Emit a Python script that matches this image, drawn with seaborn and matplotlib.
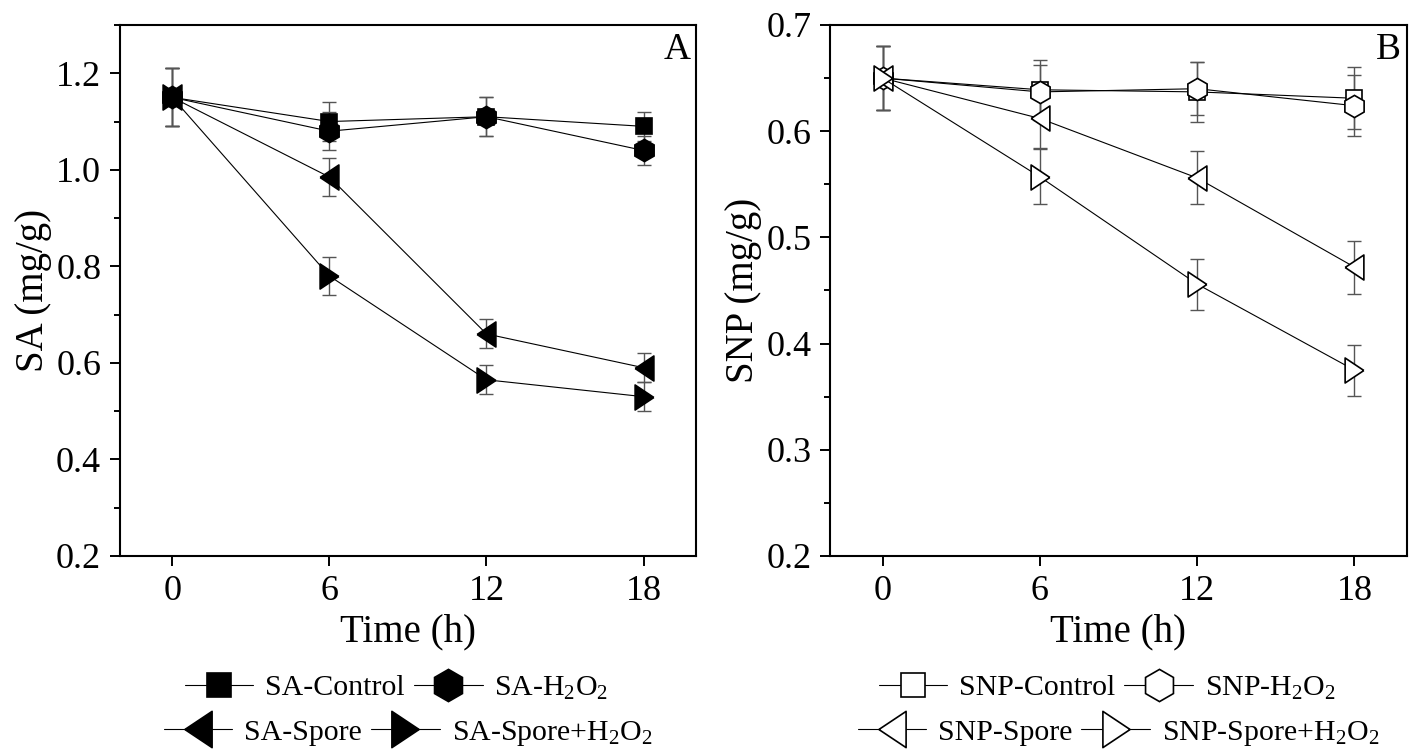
"""
SA and SNP content over time, two panels (A, B)
"""

import numpy as np
import pandas as pd
import seaborn as sns
import matplotlib.pyplot as plt
from matplotlib.lines import Line2D
from matplotlib.ticker import MultipleLocator

# data
times = [0, 6, 12, 18]

sa_series = ["SA-Control", "SA-H$_2$O$_2$", "SA-Spore", "SA-Spore+H$_2$O$_2$"]
sa_control = [1.15, 1.10, 1.11, 1.09]
sa_h2o2 = [1.15, 1.08, 1.11, 1.04]
sa_spore = [1.15, 0.985, 0.66, 0.59]
sa_spore_h2o2 = [1.15, 0.78, 0.565, 0.53]
sa_control_err = [0.06, 0.04, 0.04, 0.03]
sa_h2o2_err = [0.06, 0.04, 0.04, 0.03]
sa_spore_err = [0.06, 0.04, 0.03, 0.03]
sa_spore_h2o2_err = [0.06, 0.04, 0.03, 0.03]

snp_series = ["SNP-Control", "SNP-H$_2$O$_2$", "SNP-Spore", "SNP-Spore+H$_2$O$_2$"]
snp_control = [0.65, 0.639, 0.637, 0.631]
snp_h2o2 = [0.65, 0.637, 0.640, 0.624]
snp_spore = [0.65, 0.612, 0.556, 0.472]
snp_spore_h2o2 = [0.65, 0.557, 0.456, 0.375]
snp_control_err = [0.03, 0.028, 0.028, 0.029]
snp_h2o2_err = [0.03, 0.025, 0.025, 0.029]
snp_spore_err = [0.03, 0.028, 0.025, 0.025]
snp_spore_h2o2_err = [0.03, 0.026, 0.024, 0.024]

sns.set_style("ticks")
plt.rcParams["font.family"] = ["Liberation Serif", "DejaVu Serif"]
plt.rcParams["mathtext.fontset"] = "custom"
plt.rcParams["mathtext.rm"] = "Liberation Serif"
plt.rcParams["mathtext.it"] = "Liberation Serif:italic"
plt.rcParams["mathtext.default"] = "regular"
for key in ["text.color", "axes.labelcolor", "xtick.color", "ytick.color", "axes.edgecolor"]:
    plt.rcParams[key] = "black"

# narrow triangles like the original
tri_left = [(-0.75, 0), (0.75, 1), (0.75, -1), (-0.75, 0)]
tri_right = [(0.75, 0), (-0.75, 1), (-0.75, -1), (0.75, 0)]
marker_list = ["s", "h", tri_left, tri_right]
marker_sizes = [12, 16, 18, 18]


def long_form(names, values):
    rows = []
    for name, vals in zip(names, values):
        for t, v in zip(times, vals):
            rows.append({"time": t, "value": v, "series": name})
    return pd.DataFrame(rows)


def draw_panel(ax, names, values, errors, filled, ylim, major, minor, ylabel, letter):
    df = long_form(names, values)
    for vals, errs in zip(values, errors):
        ax.errorbar(times, vals, yerr=errs, fmt="none", ecolor="#555555",
                    elinewidth=1, capsize=5, capthick=1, zorder=1)
    face = "black" if filled else "white"
    for name, m, ms in zip(names, marker_list, marker_sizes):
        sns.lineplot(data=df[df["series"] == name], x="time", y="value",
                     marker=m, markersize=ms, color="black", linewidth=0.8,
                     markerfacecolor=face, markeredgecolor="black",
                     markeredgewidth=1.2, legend=False, ax=ax, zorder=2)
    ax.set_xlim(-2, 20)
    ax.set_ylim(*ylim)
    ax.set_xticks(times)
    ax.yaxis.set_major_locator(MultipleLocator(major))
    ax.yaxis.set_minor_locator(MultipleLocator(minor))
    ax.yaxis.set_major_formatter(plt.FormatStrFormatter("%.1f"))
    ax.tick_params(axis="both", which="major", direction="out", length=7.5,
                   width=1.4, labelsize=26, pad=6)
    ax.tick_params(axis="y", which="minor", direction="out", length=4, width=1.4)
    for s in ax.spines.values():
        s.set_linewidth(1.5)
    ax.set_xlabel("Time (h)", fontsize=28, labelpad=4)
    ax.set_ylabel(ylabel, fontsize=28, labelpad=3)
    ax.text(0.99, 0.985, letter, transform=ax.transAxes, ha="right", va="top",
            fontsize=27)

    # legend: two centred rows below the panel
    handles = [Line2D([], [], color="black", linewidth=0.8, marker=m,
                      markersize=ms * 1.45, markerfacecolor=face,
                      markeredgecolor="black", markeredgewidth=1.2)
               for m, ms in zip(marker_list, marker_sizes)]
    cx = (ax.get_position().x0 + ax.get_position().x1) / 2
    leg_kw = dict(ncol=2, frameon=False, fontsize=21.5, handlelength=2.3,
                  handletextpad=0.4, columnspacing=0.3, loc="center",
                  bbox_transform=ax.figure.transFigure, borderpad=0)
    leg1 = ax.legend(handles[:2], names[:2], bbox_to_anchor=(cx - 0.008, 1 - 688 / 755), **leg_kw)
    ax.add_artist(leg1)
    ax.legend(handles[2:], names[2:], bbox_to_anchor=(cx, 1 - 733 / 755), **leg_kw)


fig = plt.figure(figsize=(14.16, 7.55), dpi=100)
ax1 = fig.add_axes([0.0847, 0.2636, 0.4068, 0.7033])
ax2 = fig.add_axes([0.5862, 0.2636, 0.4074, 0.7033])

draw_panel(ax1, sa_series,
           [sa_control, sa_h2o2, sa_spore, sa_spore_h2o2],
           [sa_control_err, sa_h2o2_err, sa_spore_err, sa_spore_h2o2_err],
           True, (0.2, 1.3), 0.2, 0.1, "SA (mg/g)", "A")
draw_panel(ax2, snp_series,
           [snp_control, snp_h2o2, snp_spore, snp_spore_h2o2],
           [snp_control_err, snp_h2o2_err, snp_spore_err, snp_spore_h2o2_err],
           False, (0.2, 0.7), 0.1, 0.05, "SNP (mg/g)", "B")

fig.savefig("out.png", dpi=100)
